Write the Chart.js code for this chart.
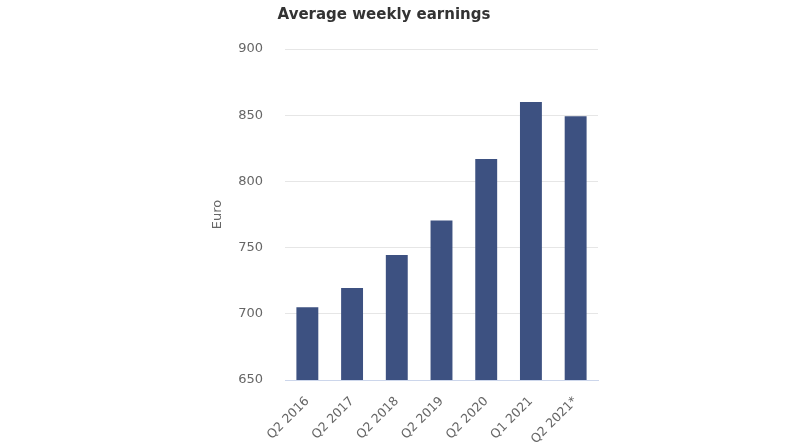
<!DOCTYPE html>
<html>
<head>
<meta charset="utf-8">
<script src="https://cdn.jsdelivr.net/npm/chart.js@4"></script>
<style>
  html, body { margin: 0; padding: 0; background: #fff; }
</style>
</head>
<body>
<canvas id="chart" width="800" height="445"></canvas>
<script>
const categories = ['Q2 2016', 'Q2 2017', 'Q2 2018', 'Q2 2019', 'Q2 2020', 'Q1 2021', 'Q2 2021*'];
const earnings = [705, 719.5, 744.5, 770.5, 817, 860, 849.3];
const yTicks = [650, 700, 750, 800, 850, 900];

const ctx = document.getElementById('chart').getContext('2d');
new Chart(ctx, {
  type: 'bar',
  data: {
    labels: categories,
    datasets: [{
      data: earnings,
      backgroundColor: '#3d5181',
      barPercentage: 0.49,
      categoryPercentage: 1.0
    }]
  },
  options: {
    responsive: false,
    animation: false,
    layout: { padding: { left: 170, right: 202, top: 6, bottom: 0 } },
    plugins: {
      legend: { display: false },
      tooltip: { enabled: false },
      title: {
        display: true,
        text: 'Average weekly earnings',
        color: '#333333',
        font: { family: 'DejaVu Sans', size: 15, weight: 'bold' },
        padding: { top: 0, bottom: 25 }
      }
    },
    scales: {
      x: {
        grid: { display: false, drawTicks: false },
        border: { color: '#ccd6eb' },
        afterFit: axis => { axis.paddingLeft = 0; axis.paddingRight = 0; axis.height = 65; },
        ticks: {
          color: '#666666',
          font: { family: 'DejaVu Sans', size: 12.5 },
          maxRotation: 45,
          minRotation: 45,
          padding: 14
        }
      },
      y: {
        min: 650,
        max: 900,
        afterBuildTicks: axis => { axis.ticks = yTicks.map(v => ({ value: v })); },
        afterFit: axis => { axis.width = 115; },
        grid: { color: '#e6e6e6', drawTicks: false },
        border: { display: false },
        ticks: {
          color: '#666666',
          font: { family: 'DejaVu Sans', size: 13 },
          padding: 22
        },
        title: {
          display: true,
          text: 'Euro',
          color: '#666666',
          font: { family: 'DejaVu Sans', size: 13 },
          padding: { top: 40, bottom: 0 }
        }
      }
    }
  }
});
</script>
</body>
</html>
